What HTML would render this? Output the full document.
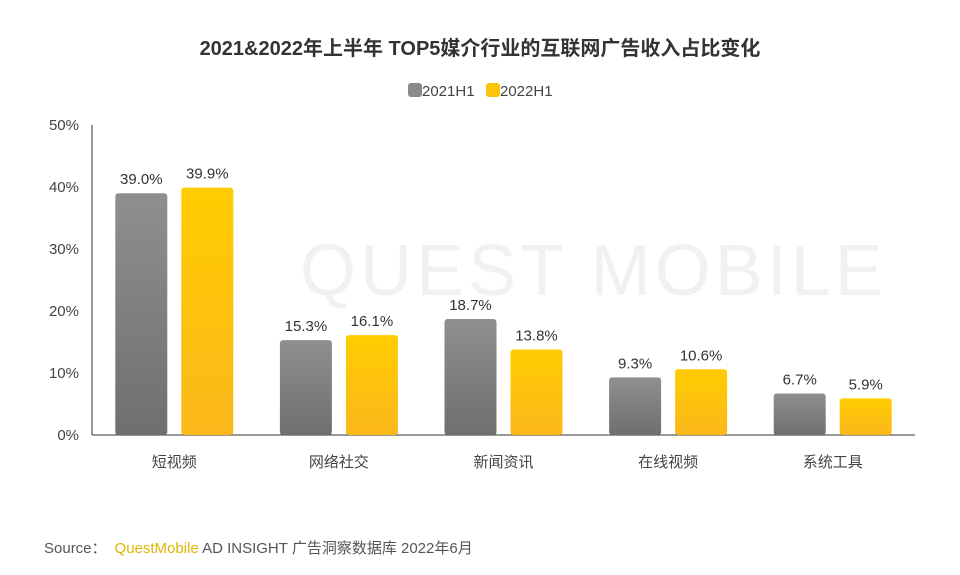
<!DOCTYPE html>
<html><head><meta charset="utf-8">
<style>
html,body{margin:0;padding:0;background:#fff;}
body{width:960px;height:570px;overflow:hidden;font-family:"Liberation Sans","Noto Sans CJK SC",sans-serif;}
</style></head>
<body>
<svg id="chart" width="960" height="570" xmlns="http://www.w3.org/2000/svg" font-family="Liberation Sans, Noto Sans CJK SC, sans-serif">
<defs>
<linearGradient id="gGray" x1="0" y1="0" x2="0" y2="1"><stop offset="0" stop-color="#8f8f8f"/><stop offset="1" stop-color="#6f6f6f"/></linearGradient>
<linearGradient id="gYel" x1="0" y1="0" x2="0" y2="1"><stop offset="0" stop-color="#ffcc00"/><stop offset="1" stop-color="#fbb81c"/></linearGradient>
</defs>
<text x="480" y="55" text-anchor="middle" font-size="20" font-weight="bold" fill="#333">2021&amp;2022年上半年 TOP5媒介行业的互联网广告收入占比变化</text>
<g>
<rect x="408" y="83" width="14" height="14" rx="3" fill="#8a8a8a"/>
<text x="422" y="96" font-size="15" fill="#444">2021H1</text>
<rect x="486" y="83" width="14" height="14" rx="3" fill="#fcc30a"/>
<text x="500" y="96" font-size="15" fill="#444">2022H1</text>
</g>
<text x="300" y="295" font-size="72" fill="#f1f1f1" letter-spacing="4">QUEST MOBILE</text>
<g id="axes"></g>
<g id="bars"></g>
<text x="44" y="553" font-size="15" fill="#555">Source：<tspan fill="#e0b400" dx="8">QuestMobile</tspan><tspan fill="#555"> AD INSIGHT 广告洞察数据库 2022年6月</tspan></text>
</svg>
<script>
const categories = ["短视频","网络社交","新闻资讯","在线视频","系统工具"];
const series2021 = [39.0, 15.3, 18.7, 9.3, 6.7];
const series2022 = [39.9, 16.1, 13.8, 10.6, 5.9];
const yTicks = [0, 10, 20, 30, 40, 50];
const yTickLabels = ["0%","10%","20%","30%","40%","50%"];

const NS = "http://www.w3.org/2000/svg";
const x0 = 92, x1 = 915, yBase = 435, yTop = 125, yMax = 50;
const band = (x1 - x0) / categories.length;
const yScale = v => yBase - (v / yMax) * (yBase - yTop);
const xCenter = i => x0 + band * (i + 0.5);
const barW = 52, off = 33;

function mk(tag, attrs, parent) {
  const e = document.createElementNS(NS, tag);
  for (const k in attrs) e.setAttribute(k, attrs[k]);
  parent.appendChild(e);
  return e;
}
const axes = document.getElementById("axes");
const bars = document.getElementById("bars");

const yAxis = mk("line", {x1: x0, y1: yTop, x2: x0, y2: yBase, stroke: "#333", "stroke-width": 1}, axes);


const xAxis = mk("line", {x1: x0, y1: yBase, x2: x1, y2: yBase, stroke: "#333", "stroke-width": 1}, axes);



yTicks.forEach((t, i) => {
  const tx = mk("text", {x: 79, y: yScale(t) + 5, "text-anchor": "end", "font-size": 15, fill: "#444"}, axes);
  tx.textContent = yTickLabels[i];
  
  
});

categories.forEach((c, i) => {
  const cx = xCenter(i);
  const lab = mk("text", {x: cx, y: 467, "text-anchor": "middle", "font-size": 15, fill: "#444"}, axes);
  lab.textContent = c;
  
  

  [[series2021[i], -off, "url(#gGray)", "2021"], [series2022[i], off, "url(#gYel)", "2022"]].forEach(([v, o, fill, s]) => {
    const y = yScale(v);
    const r = mk("rect", {x: cx + o - barW / 2, y: y, width: barW, height: yBase - y, rx: 3, fill: fill}, bars);
    
    
    const t = mk("text", {x: cx + o, y: y - 9, "text-anchor": "middle", "font-size": 15, fill: "#333"}, bars);
    t.textContent = v.toFixed(1) + "%";
    
    
  });
});
</script>
</body></html>
